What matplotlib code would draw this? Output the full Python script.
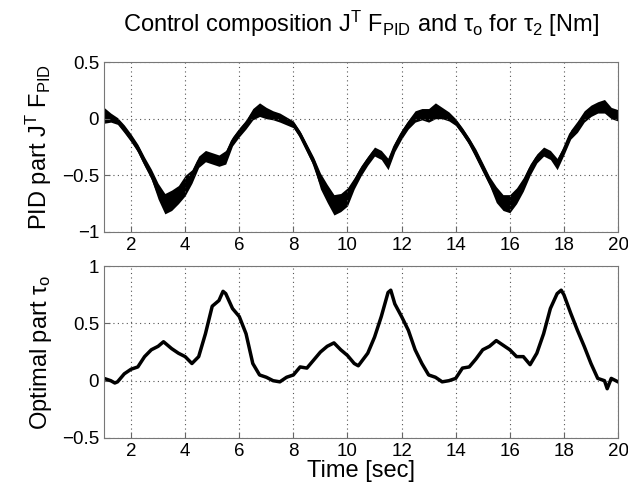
import matplotlib
matplotlib.use("Agg")
import matplotlib.pyplot as plt
import numpy as np

plt.rcParams['font.family'] = ['Liberation Sans', 'DejaVu Sans']
plt.rcParams['mathtext.fontset'] = 'custom'
plt.rcParams['mathtext.rm'] = 'Liberation Sans'
plt.rcParams['mathtext.it'] = 'Liberation Sans'
plt.rcParams['mathtext.bf'] = 'Liberation Sans:bold'

# PID part J^T F_PID: centre line and half thickness of the noisy band
t_pid = [1.0, 1.25, 1.5, 1.75, 2.0, 2.25, 2.5, 2.75, 3.0, 3.25, 3.5, 3.75, 4.0, 4.25,
         4.5, 4.75, 5.0, 5.25, 5.5, 5.75, 6.0, 6.25, 6.5, 6.75, 7.0, 7.25, 7.5, 7.75,
         8.0, 8.25, 8.5, 8.75, 9.0, 9.25, 9.5, 9.75, 10.0, 10.25, 10.5, 10.75, 11.0,
         11.25, 11.5, 11.75, 12.0, 12.25, 12.5, 12.75, 13.0, 13.25, 13.5, 13.75, 14.0,
         14.25, 14.5, 14.75, 15.0, 15.25, 15.5, 15.75, 16.0, 16.25, 16.5, 16.75, 17.0,
         17.25, 17.5, 17.75, 18.0, 18.25, 18.5, 18.75, 19.0, 19.25, 19.5, 19.75, 20.0]
pid = [0.03, 0.01, -0.02, -0.09, -0.17, -0.26, -0.38, -0.49, -0.64, -0.75, -0.72, -0.67,
       -0.59, -0.51, -0.38, -0.33, -0.35, -0.37, -0.34, -0.2, -0.12, -0.05, 0.04, 0.08,
       0.05, 0.03, 0.01, -0.02, -0.05, -0.14, -0.26, -0.38, -0.55, -0.66, -0.76, -0.74,
       -0.69, -0.57, -0.46, -0.37, -0.29, -0.32, -0.4, -0.25, -0.14, -0.05, 0.02, 0.04,
       0.03, 0.07, 0.05, 0.02, -0.03, -0.11, -0.2, -0.31, -0.43, -0.55, -0.67, -0.74,
       -0.75, -0.68, -0.58, -0.45, -0.35, -0.29, -0.32, -0.4, -0.28, -0.14, -0.07, 0.02,
       0.07, 0.1, 0.11, 0.05, 0.03]
pid_spread = [0.07, 0.04, 0.03, 0.035, 0.035, 0.035, 0.04, 0.045, 0.07, 0.09, 0.09, 0.08,
              0.09, 0.06, 0.05, 0.05, 0.05, 0.05, 0.06, 0.04, 0.04, 0.04, 0.05, 0.06,
              0.05, 0.04, 0.04, 0.035, 0.03, 0.03, 0.035, 0.04, 0.07, 0.08, 0.09, 0.08,
              0.08, 0.05, 0.045, 0.04, 0.04, 0.04, 0.05, 0.04, 0.04, 0.04, 0.05, 0.05,
              0.06, 0.07, 0.05, 0.04, 0.03, 0.03, 0.03, 0.04, 0.04, 0.04, 0.07, 0.07,
              0.08, 0.07, 0.06, 0.05, 0.04, 0.04, 0.04, 0.05, 0.04, 0.04, 0.05, 0.05,
              0.05, 0.05, 0.06, 0.05, 0.05]

# Optimal part tau_o
t_opt = [1.0, 1.25, 1.4, 1.5, 1.75, 2.0, 2.25, 2.5, 2.75, 3.0, 3.2, 3.5, 3.75, 4.0,
         4.25, 4.5, 4.75, 5.0, 5.25, 5.4, 5.5, 5.75, 6.0, 6.25, 6.5, 6.75, 7.0, 7.25,
         7.5, 7.75, 8.0, 8.25, 8.5, 8.75, 9.0, 9.25, 9.5, 9.75, 10.0, 10.25, 10.4,
         10.75, 11.0, 11.25, 11.5, 11.6, 11.75, 12.0, 12.25, 12.5, 12.75, 13.0, 13.25,
         13.5, 13.75, 14.0, 14.25, 14.5, 14.75, 15.0, 15.25, 15.5, 15.75, 16.0, 16.25,
         16.5, 16.75, 17.0, 17.25, 17.5, 17.75, 17.9, 18.0, 18.25, 18.5, 18.75, 19.0,
         19.25, 19.5, 19.6, 19.75, 20.0]
opt = [0.02, 0.0, -0.02, -0.01, 0.06, 0.1, 0.12, 0.21, 0.27, 0.3, 0.34, 0.28, 0.24,
       0.21, 0.15, 0.21, 0.41, 0.65, 0.7, 0.78, 0.76, 0.63, 0.56, 0.41, 0.15, 0.05,
       0.03, 0.0, -0.01, 0.03, 0.05, 0.12, 0.11, 0.18, 0.25, 0.3, 0.33, 0.27, 0.22,
       0.15, 0.13, 0.24, 0.38, 0.56, 0.77, 0.79, 0.67, 0.56, 0.44, 0.27, 0.15, 0.05,
       0.03, -0.01, 0.0, 0.02, 0.11, 0.12, 0.19, 0.27, 0.3, 0.35, 0.31, 0.27, 0.21,
       0.21, 0.14, 0.24, 0.41, 0.63, 0.76, 0.79, 0.75, 0.59, 0.44, 0.3, 0.15, 0.02,
       0.0, -0.07, 0.02, -0.01]

xticks = [2, 4, 6, 8, 10, 12, 14, 16, 18, 20]

fig = plt.figure(figsize=(6.28, 4.91), dpi=100)
ax1 = fig.add_axes([0.1656, 0.5275, 0.8185, 0.346])
ax2 = fig.add_axes([0.1656, 0.108, 0.8185, 0.350])

pid_a = np.array(pid)
sp = np.array(pid_spread)
ax1.fill_between(t_pid, pid_a - sp, pid_a + sp, color='black', lw=0)
ax1.plot(t_pid, pid, color='black', lw=2.5)
ax1.set_ylim(-1, 0.5)
ax1.set_yticks([-1, -0.5, 0, 0.5])
ax1.set_yticklabels(['\u22121', '\u22120.5', '0', '0.5'])

ax2.plot(t_opt, opt, color='black', lw=2.5)
ax2.set_ylim(-0.5, 1)
ax2.set_yticks([-0.5, 0, 0.5, 1])
ax2.set_yticklabels(['\u22120.5', '0', '0.5', '1'])

for ax in (ax1, ax2):
    ax.set_xlim(1, 20)
    ax.set_xticks(xticks)
    ax.grid(True, linestyle=(0, (1, 3)), color='#555555', linewidth=0.8)
    ax.tick_params(direction='in', labelsize=13.5, length=4, color='#666666')
    for s in ax.spines.values():
        s.set_color('#777777')

ax1.set_ylabel(r'PID part J$^{\mathrm{T}}$ F$_{\mathrm{PID}}$', fontsize=17, labelpad=6)
ax2.set_ylabel(r'Optimal part $\tau_{\mathrm{o}}$', fontsize=17, labelpad=6)
ax2.set_xlabel('Time [sec]', fontsize=17, labelpad=0)
ax1.set_title(r'Control composition J$^{\mathrm{T}}$ F$_{\mathrm{PID}}$ and $\tau_{\mathrm{o}}$ for $\tau_{2}$ [Nm]',
              fontsize=17, pad=22)

fig.savefig('out.png', dpi=100)
